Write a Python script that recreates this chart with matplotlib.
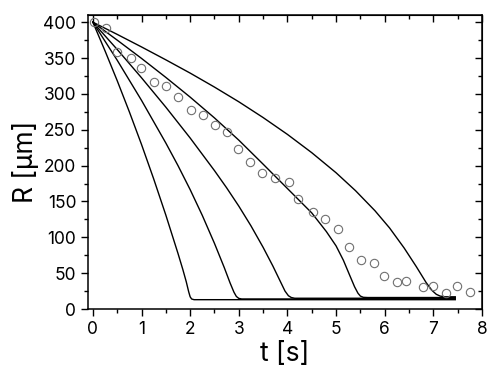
import matplotlib.pyplot as plt
from matplotlib.ticker import MultipleLocator

plt.rcParams['font.family'] = ['Inter', 'DejaVu Sans']

# measured radius (circles)
t_exp = [0.03, 0.27, 0.49, 0.78, 0.99, 1.26, 1.51, 1.76, 2.02, 2.27, 2.51, 2.75,
         2.98, 3.23, 3.48, 3.74, 4.03, 4.22, 4.52, 4.77, 5.03, 5.27, 5.51, 5.77,
         5.99, 6.26, 6.44, 6.78, 7.00, 7.26, 7.48, 7.76]
R_exp = [400, 392, 358, 350, 336, 316, 311, 295, 278, 271, 256, 247,
         223, 205, 190, 183, 177, 154, 135, 125, 112, 86, 69, 64,
         46, 38, 39, 30, 32, 22, 32, 24]

# model curves
t1 = [0, 0.25, 0.5, 0.75, 1.0, 1.25, 1.5, 1.75, 1.85, 1.92, 1.97, 2.0, 2.03, 2.08, 7.45]
R1 = [400, 360, 318.5, 275, 229.5, 181.5, 131, 77.5, 55, 38, 24, 17, 14, 13, 13]

t2 = [0, 0.5, 1.0, 1.5, 1.75, 2.0, 2.25, 2.5, 2.7, 2.82, 2.9, 2.95, 3.0, 3.06, 7.45]
R2 = [400, 347, 291, 231.5, 200, 166.5, 130.5, 91.5, 58, 36.5, 23.5, 17.5, 14.8, 14, 14]

t3 = [0, 0.5, 1.0, 1.5, 2.0, 2.5, 2.75, 3.0, 3.25, 3.5, 3.7, 3.85, 3.95, 4.02, 4.08, 4.15, 7.45]
R3 = [400, 362, 322.5, 281.5, 238.5, 193, 169, 143.5, 116, 86, 60, 39, 25, 18.5, 16, 15, 15]

t4 = [0, 0.5, 1.0, 1.5, 2.0, 2.5, 3.0, 3.5, 4.0, 4.5, 4.8, 5.0, 5.15, 5.28,
      5.38, 5.45, 5.5, 5.56, 5.65, 7.45]
R4 = [400, 375, 349.5, 323, 295.5, 266.5, 235.5, 202, 168, 134, 108, 88, 68, 47,
      31, 22, 18, 16.3, 16, 16]

t5 = [0, 0.5, 1.0, 1.5, 2.0, 2.5, 3.0, 3.5, 4.0, 4.5, 5.0, 5.4, 5.8, 6.1, 6.4,
      6.65, 6.85, 6.97, 7.06, 7.14, 7.25, 7.45]
R5 = [400, 383, 365.5, 347.5, 329, 309.5, 289, 267, 243.5, 218, 190, 165, 137, 113, 85,
      59, 37, 26, 20.5, 18, 17, 17]

fig = plt.figure(figsize=(4.98, 3.83), dpi=100)
ax = fig.add_axes([0.1767, 0.1932, 0.7912, 0.7676])

for t, R in [(t1, R1), (t2, R2), (t3, R3), (t4, R4), (t5, R5)]:
    ax.plot(t, R, color='black', lw=1.0)
ax.plot(t_exp, R_exp, 'o', mfc='none', mec='#707070', ms=6, mew=0.8)

ax.set_xlim(-0.1, 8)
ax.set_ylim(0, 410)
ax.xaxis.set_major_locator(MultipleLocator(1))
ax.xaxis.set_minor_locator(MultipleLocator(0.5))
ax.yaxis.set_major_locator(MultipleLocator(50))
ax.yaxis.set_minor_locator(MultipleLocator(25))
ax.tick_params(which='both', direction='out', width=1.0, labelsize=12.5)
ax.tick_params(which='major', length=5)
ax.tick_params(which='minor', length=3)
for s in ax.spines.values():
    s.set_linewidth(1.1)

top = ax.secondary_xaxis('top')
top.xaxis.set_major_locator(MultipleLocator(1))
top.xaxis.set_minor_locator(MultipleLocator(0.5))
top.tick_params(which='both', direction='in', labeltop=False, width=1.0)
top.tick_params(which='major', length=5)
top.tick_params(which='minor', length=3)

right = ax.secondary_yaxis('right')
right.yaxis.set_major_locator(MultipleLocator(50))
right.yaxis.set_minor_locator(MultipleLocator(25))
right.tick_params(which='both', direction='in', labelright=False, width=1.0)
right.tick_params(which='major', length=5)
right.tick_params(which='minor', length=3)

ax.set_xlabel('t [s]', fontsize=19, labelpad=2)
ax.set_ylabel('R [µm]', fontsize=19, labelpad=3)

fig.savefig('out.png', dpi=100)
